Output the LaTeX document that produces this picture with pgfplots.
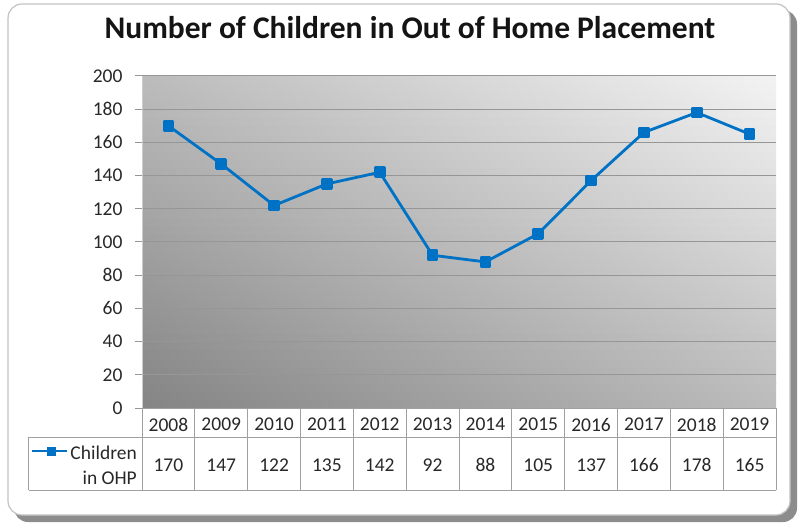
\documentclass[border=0pt]{standalone}
\usepackage{pgfplots}
\pgfplotsset{compat=1.18}
\usepackage{pgfplotstable}
\usepackage{fontspec}
\setmainfont{Carlito}
\definecolor{ohpblue}{RGB}{0,114,198}
\definecolor{gridgray}{RGB}{150,150,150}
\definecolor{bgdark}{RGB}{132,132,132}
\definecolor{bglight}{RGB}{243,243,243}
\definecolor{framegray}{RGB}{195,195,195}
\definecolor{shadowgray}{RGB}{140,140,140}
\definecolor{tablegray}{RGB}{160,160,160}
\definecolor{txt}{RGB}{40,40,40}

\pgfplotstableread{
x year y
0 2008 170
1 2009 147
2 2010 122
3 2011 135
4 2012 142
5 2013 92
6 2014 88
7 2015 105
8 2016 137
9 2017 166
10 2018 178
11 2019 165
}\ohpdata

\begin{document}
\begin{tikzpicture}[x=1pt,y=1pt]
\fill[shadowgray, rounded corners=14pt] (-128,-114) rectangle (655,398);
\filldraw[fill=white, draw=framegray, line width=1.2pt, rounded corners=14pt] (-134,-107) rectangle (648,404);
\node[font=\fontsize{31.5}{34}\selectfont\bfseries, text=black!92] at (268,380) {Number of Children in Out of Home Placement};
% plot-area background: diagonal gradient, dark bottom-left to light top-right
\foreach \k in {0,...,39}{
  \pgfmathsetmacro\pl{50*(\k+0.5)/40}
  \pgfmathsetmacro\pr{50+50*(\k+0.5)/40}
  \shade[left color=bglight!\pl!bgdark, right color=bglight!\pr!bgdark] (0,{\k*8.3}) rectangle (634,{(\k+1)*8.3+0.25});
}
\begin{axis}[
  at={(0,0)}, anchor=south west,
  scale only axis, width=634pt, height=332pt,
  xmin=-0.5, xmax=11.5, ymin=0, ymax=200,
  clip=false,
  axis x line*=bottom, axis y line*=left,
  x axis line style={draw=tablegray, line width=1pt, -},
  y axis line style={draw=gray!40, line width=0.8pt, -},
  ytick={0,20,...,200},
  ymajorgrids,
  grid style={gridgray, line width=1pt},
  tick align=outside, major tick length=7pt,
  ytick style={gridgray, line width=1pt},
  xtick={0,...,11},
  xticklabels={2008,2009,2010,2011,2012,2013,2014,2015,2016,2017,2018,2019},
  xtick style={draw=none},
  xticklabel style={font=\fontsize{19.5}{20}\selectfont, text=txt, anchor=center, yshift=-9.5pt},
  yticklabel style={font=\fontsize{19.5}{20}\selectfont, text=txt, xshift=-9pt},
  /pgf/number format/assume math mode=true,
]
\addplot[ohpblue, line width=2.8pt, line join=round, mark=square*, mark size=4.5pt, mark options={solid}] table[x=x,y=y]{\ohpdata};
\addplot[draw=none, forget plot, nodes near coords, point meta=explicit,
  every node near coord/.append style={anchor=center, font=\fontsize{19.5}{20}\selectfont, text=txt}]
  table[x=x, y expr=-34.3, meta=y]{\ohpdata};
\end{axis}
% data table grid
\foreach \i in {0,...,12} {\draw[tablegray, line width=1pt] ({\i*634/12},0) -- ({\i*634/12},-82);}
\draw[tablegray, line width=1pt] (-113,-29) -- (634,-29);
\draw[tablegray, line width=1pt] (-113,-82) -- (634,-82);
\draw[tablegray, line width=1pt] (-113,-29) -- (-113,-82);
% legend key in the table
\draw[ohpblue, line width=2.6pt] (-110,-43) -- (-75,-43);
\fill[ohpblue] (-94.5,-47.5) rectangle (-85.5,-38.5);
\node[anchor=east, align=right, inner sep=0pt, font=\fontsize{19.5}{25}\selectfont, text=txt] at (-5,-57) {Children\\in OHP};
\pgfresetboundingbox
\path (-142,-116) rectangle (657,408);
\end{tikzpicture}
\end{document}
